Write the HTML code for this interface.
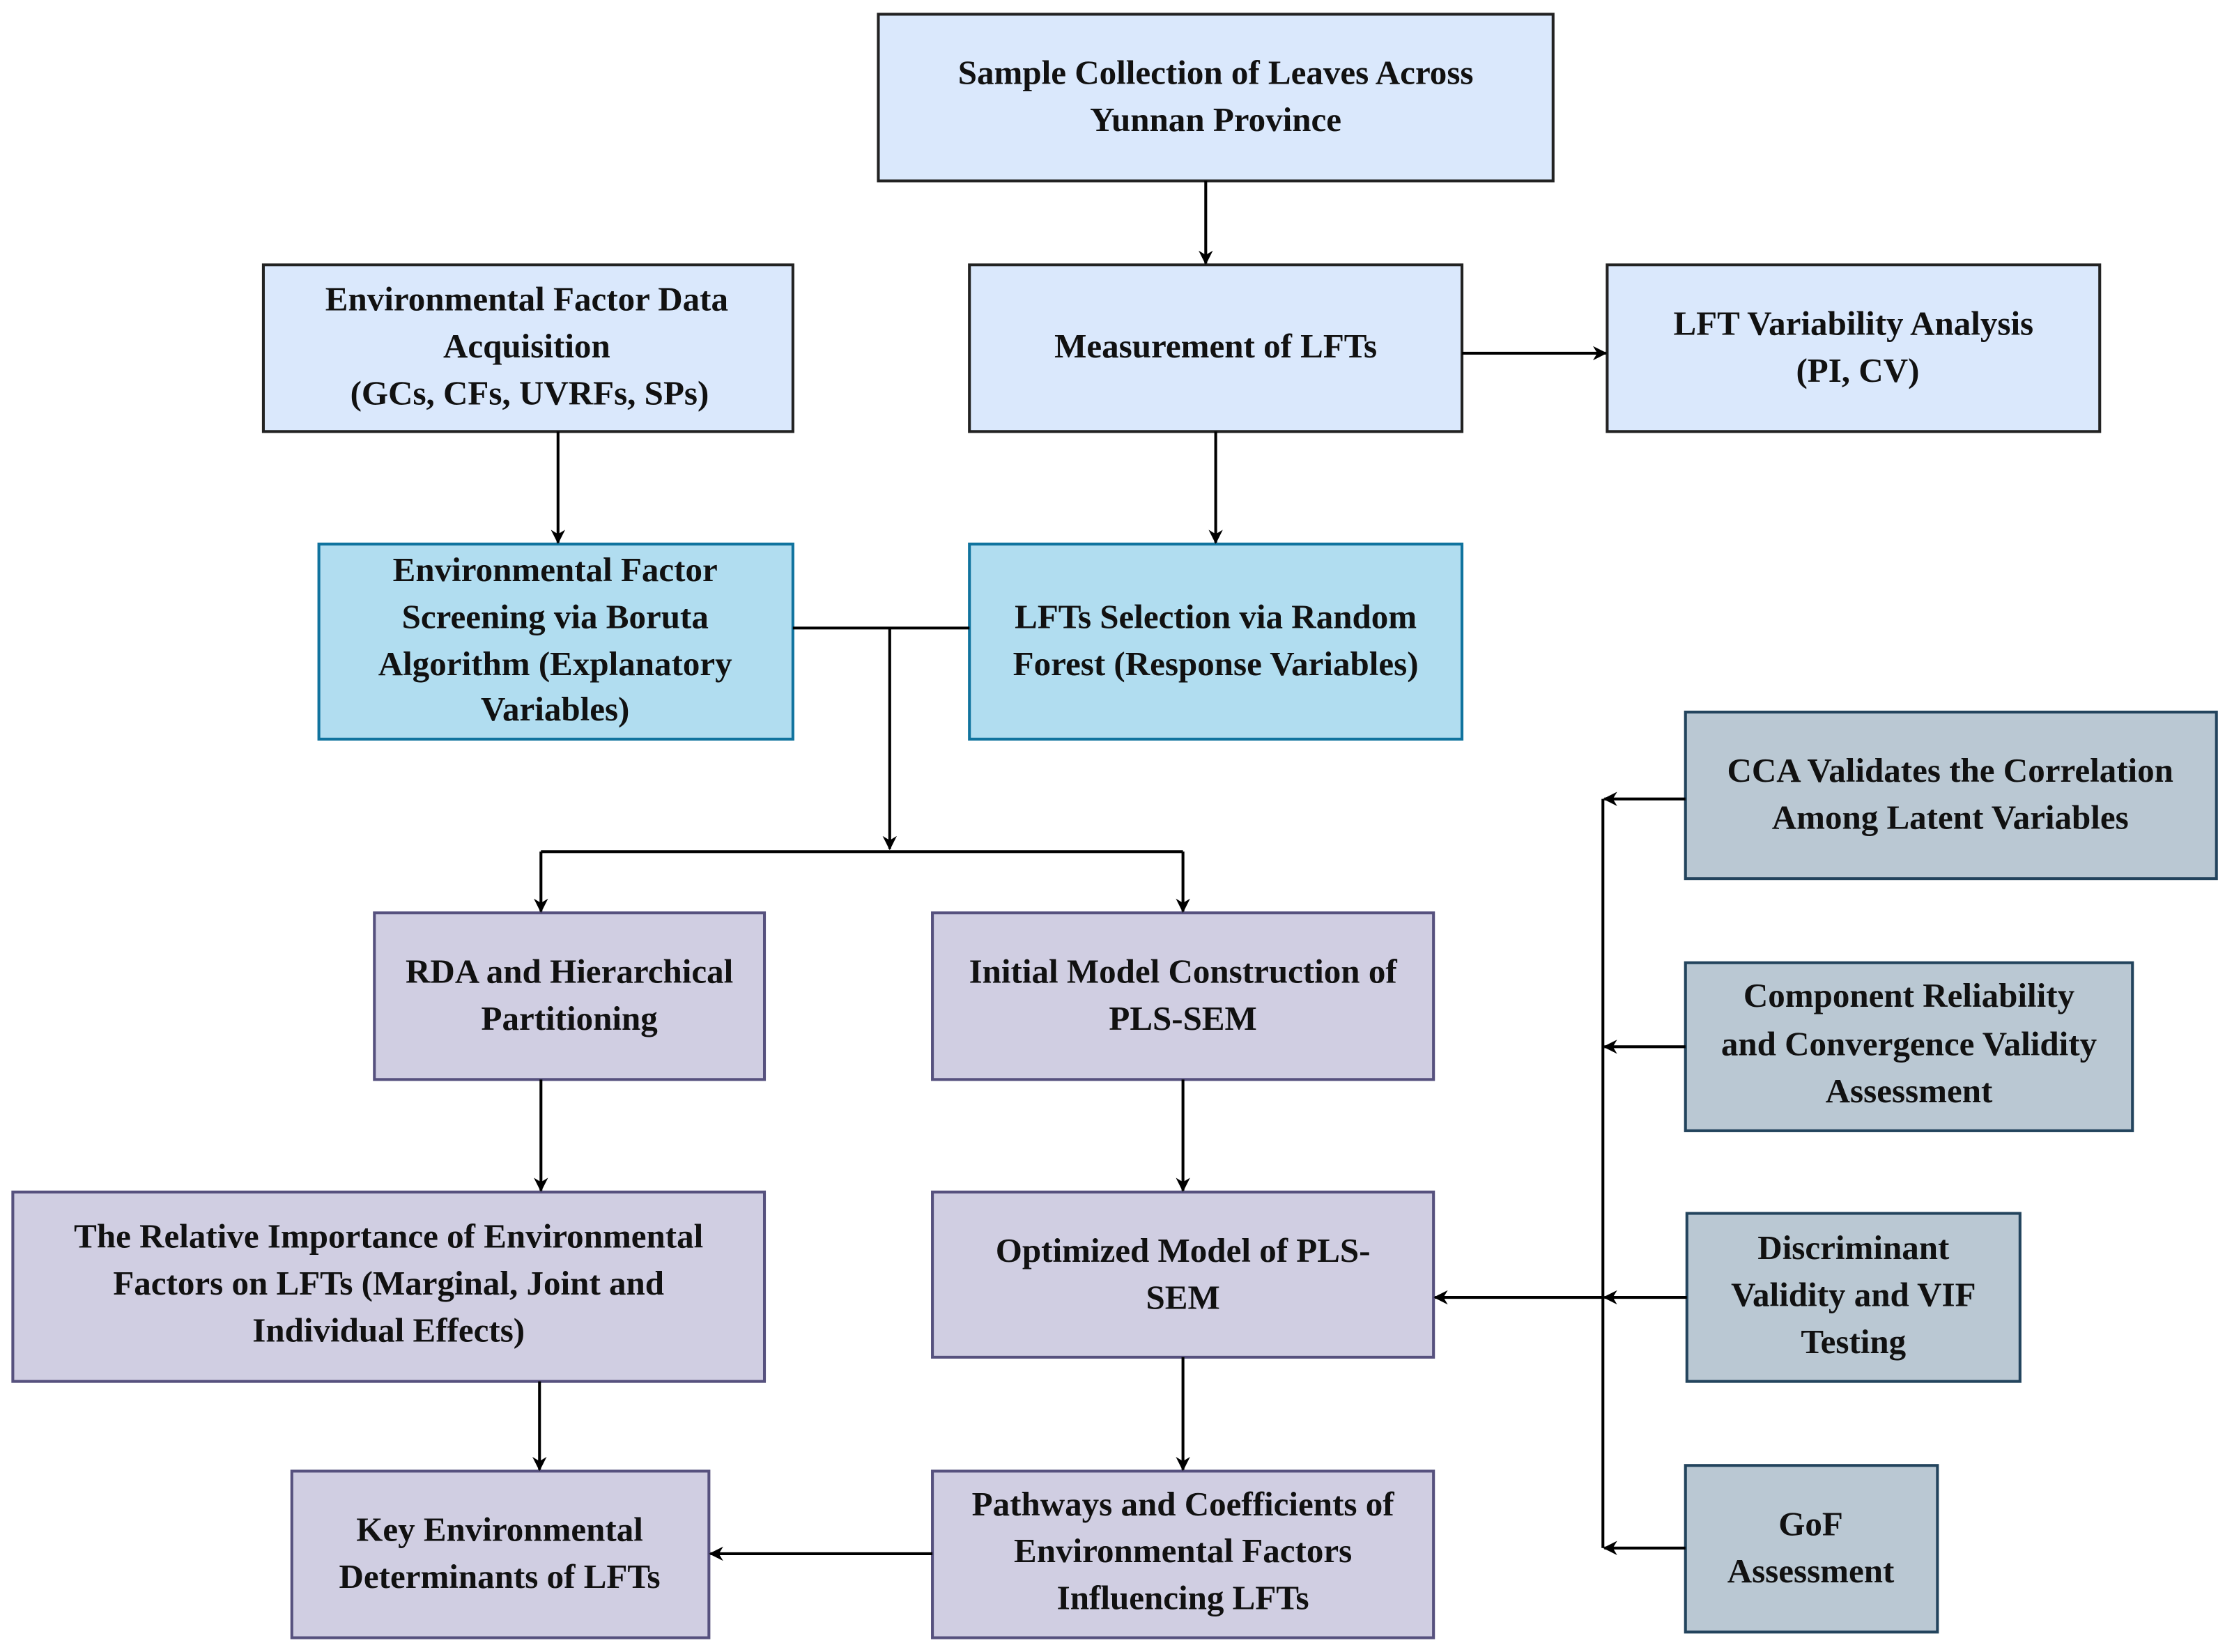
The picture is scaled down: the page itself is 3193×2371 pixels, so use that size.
<!DOCTYPE html>
<html><head><meta charset="utf-8"><style>
html,body{margin:0;padding:0;background:#fff}
svg{display:block}
text{font-family:"Liberation Serif",serif;font-weight:bold;font-size:24px;fill:#111;text-anchor:middle}
</style></head><body>
<svg width="3193" height="2371" viewBox="0 0 1563 1160" preserveAspectRatio="none" xmlns="http://www.w3.org/2000/svg">
<defs><marker id="a" markerWidth="10" markerHeight="10" refX="9" refY="5" orient="auto" markerUnits="userSpaceOnUse"><path d="M0,0 L10,5 L0,10 L3,5 Z" fill="#000"/></marker></defs>
<g stroke-width="2">
<rect x="617" y="10" width="474" height="117" fill="#dae8fc" stroke="#222"/>
<rect x="185" y="186" width="372" height="117" fill="#dae8fc" stroke="#222"/>
<rect x="681" y="186" width="346" height="117" fill="#dae8fc" stroke="#222"/>
<rect x="1129" y="186" width="346" height="117" fill="#dae8fc" stroke="#222"/>
<rect x="224" y="382" width="333" height="137" fill="#b1ddf0" stroke="#10739e"/>
<rect x="681" y="382" width="346" height="137" fill="#b1ddf0" stroke="#10739e"/>
<rect x="1184" y="500" width="373" height="117" fill="#bac8d3" stroke="#23445d"/>
<rect x="1184" y="676" width="314" height="118" fill="#bac8d3" stroke="#23445d"/>
<rect x="1185" y="852" width="234" height="118" fill="#bac8d3" stroke="#23445d"/>
<rect x="1184" y="1029" width="177" height="117" fill="#bac8d3" stroke="#23445d"/>
<rect x="263" y="641" width="274" height="117" fill="#d0cee2" stroke="#56517e"/>
<rect x="655" y="641" width="352" height="117" fill="#d0cee2" stroke="#56517e"/>
<rect x="9" y="837" width="528" height="133" fill="#d0cee2" stroke="#56517e"/>
<rect x="655" y="837" width="352" height="116" fill="#d0cee2" stroke="#56517e"/>
<rect x="205" y="1033" width="293" height="117" fill="#d0cee2" stroke="#56517e"/>
<rect x="655" y="1033" width="352" height="117" fill="#d0cee2" stroke="#56517e"/>
</g>
<g stroke="#000" stroke-width="2" fill="none">
<line x1="847" y1="127" x2="847" y2="185" marker-end="url(#a)"/>
<line x1="1027" y1="248" x2="1128" y2="248" marker-end="url(#a)"/>
<line x1="392" y1="303" x2="392" y2="381" marker-end="url(#a)"/>
<line x1="854" y1="303" x2="854" y2="381" marker-end="url(#a)"/>
<line x1="557" y1="441" x2="681" y2="441"/>
<line x1="625" y1="441" x2="625" y2="596" marker-end="url(#a)"/>
<line x1="380" y1="598" x2="831" y2="598"/>
<line x1="380" y1="598" x2="380" y2="640" marker-end="url(#a)"/>
<line x1="831" y1="598" x2="831" y2="640" marker-end="url(#a)"/>
<line x1="380" y1="758" x2="380" y2="836" marker-end="url(#a)"/>
<line x1="831" y1="758" x2="831" y2="836" marker-end="url(#a)"/>
<line x1="379" y1="970" x2="379" y2="1032" marker-end="url(#a)"/>
<line x1="831" y1="953" x2="831" y2="1032" marker-end="url(#a)"/>
<line x1="655" y1="1091" x2="499" y2="1091" marker-end="url(#a)"/>
<line x1="1126" y1="561" x2="1126" y2="1087"/>
<line x1="1184" y1="561" x2="1127" y2="561" marker-end="url(#a)"/>
<line x1="1184" y1="735" x2="1127" y2="735" marker-end="url(#a)"/>
<line x1="1185" y1="911" x2="1127" y2="911" marker-end="url(#a)"/>
<line x1="1184" y1="1087" x2="1127" y2="1087" marker-end="url(#a)"/>
<line x1="1126" y1="911" x2="1008" y2="911" marker-end="url(#a)"/>
</g>
<text x="854" y="59">Sample Collection of Leaves Across</text>
<text x="854" y="92">Yunnan Province</text>
<text x="370" y="218">Environmental Factor Data</text>
<text x="370" y="251">Acquisition</text>
<text x="372" y="284">(GCs, CFs, UVRFs, SPs)</text>
<text x="854" y="251">Measurement of LFTs</text>
<text x="1302" y="235">LFT Variability Analysis</text>
<text x="1305" y="268">(PI, CV)</text>
<text x="390" y="408">Environmental Factor</text>
<text x="390" y="441">Screening via Boruta</text>
<text x="390" y="474">Algorithm (Explanatory</text>
<text x="390" y="506">Variables)</text>
<text x="854" y="441">LFTs Selection via Random</text>
<text x="854" y="474">Forest (Response Variables)</text>
<text x="1370" y="549">CCA Validates the Correlation</text>
<text x="1370" y="582">Among Latent Variables</text>
<text x="400" y="690">RDA and Hierarchical</text>
<text x="400" y="723">Partitioning</text>
<text x="831" y="690">Initial Model Construction of</text>
<text x="831" y="723">PLS-SEM</text>
<text x="1341" y="707">Component Reliability</text>
<text x="1341" y="741">and Convergence Validity</text>
<text x="1341" y="774">Assessment</text>
<text x="273" y="876">The Relative Importance of Environmental</text>
<text x="273" y="909">Factors on LFTs (Marginal, Joint and</text>
<text x="273" y="942">Individual Effects)</text>
<text x="831" y="886">Optimized Model of PLS-</text>
<text x="831" y="919">SEM</text>
<text x="1302" y="884">Discriminant</text>
<text x="1302" y="917">Validity and VIF</text>
<text x="1302" y="950">Testing</text>
<text x="351" y="1082">Key Environmental</text>
<text x="351" y="1115">Determinants of LFTs</text>
<text x="831" y="1064">Pathways and Coefficients of</text>
<text x="831" y="1097">Environmental Factors</text>
<text x="831" y="1130">Influencing LFTs</text>
<text x="1272" y="1078">GoF</text>
<text x="1272" y="1111">Assessment</text>
</svg>
</body></html>
